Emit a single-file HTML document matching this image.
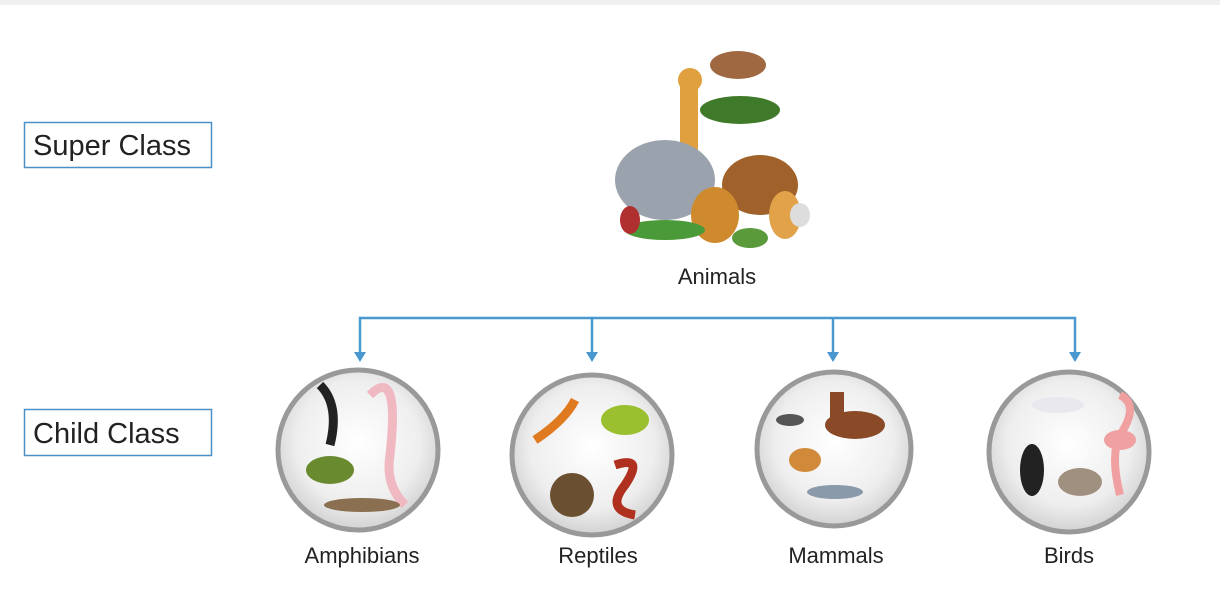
<!DOCTYPE html>
<html><head><meta charset="utf-8"><style>
html,body{margin:0;padding:0;background:#fff;width:1220px;height:614px;overflow:hidden}
svg{display:block}
text{font-family:"Liberation Sans","DejaVu Sans",sans-serif;fill:#222}
</style></head><body>
<svg width="1220" height="614" viewBox="0 0 1220 614">
<defs>
<radialGradient id="cg" cx="50%" cy="45%" r="55%"><stop offset="0" stop-color="#ffffff"/><stop offset="0.7" stop-color="#eeeeee"/><stop offset="1" stop-color="#d2d2d2"/></radialGradient>
</defs>
<rect x="0" y="0" width="1220" height="5" fill="#f0f0f0"/>
<g>
<rect x="24.5" y="122.5" width="187" height="45" fill="#fff" stroke="#4a90c8" stroke-width="1.5"/>
<text x="33" y="155" font-size="29">Super Class</text></g>
<g>
<rect x="24.5" y="409.5" width="187" height="46" fill="#fff" stroke="#4a90c8" stroke-width="1.5"/>
<text x="33" y="443" font-size="29">Child Class</text></g>

<g>
<ellipse cx="740" cy="110" rx="40" ry="14" fill="#3f7a2a"/>
<rect x="680" y="80" width="18" height="100" fill="#e0a040"/>
<ellipse cx="690" cy="80" rx="12" ry="12" fill="#e0a040"/>
<ellipse cx="738" cy="65" rx="28" ry="14" fill="#a06840"/>
<ellipse cx="665" cy="180" rx="50" ry="40" fill="#9aa3ad"/>
<ellipse cx="760" cy="185" rx="38" ry="30" fill="#a0622a"/>
<ellipse cx="715" cy="215" rx="24" ry="28" fill="#d08a2e"/>
<ellipse cx="785" cy="215" rx="16" ry="24" fill="#e2a24a"/>
<ellipse cx="665" cy="230" rx="40" ry="10" fill="#4a9a3a"/>
<ellipse cx="750" cy="238" rx="18" ry="10" fill="#5a9a3a"/>
<ellipse cx="630" cy="220" rx="10" ry="14" fill="#b03030"/>
<ellipse cx="800" cy="215" rx="10" ry="12" fill="#ddd"/>
</g>
<text x="717" y="284" font-size="22" text-anchor="middle">Animals</text>

<g stroke="#4a98d0" stroke-width="2.5" fill="none">
<path d="M360 360 V318 H1075 V360"/>
<path d="M592 318 V360"/><path d="M833 318 V360"/>
</g>
<g fill="#4a98d0">
<path d="M354 352 L366 352 L360 362Z"/><path d="M586 352 L598 352 L592 362Z"/>
<path d="M827 352 L839 352 L833 362Z"/><path d="M1069 352 L1081 352 L1075 362Z"/>
</g>

<g>
<circle cx="358" cy="450" r="80" fill="url(#cg)" stroke="#999" stroke-width="5"/>
<path d="M320 385 q20 20 10 60" stroke="#222" stroke-width="9" fill="none"/>
<path d="M370 395 q30 -30 20 60 q-5 30 15 50" stroke="#f0b8c0" stroke-width="9" fill="none"/>
<ellipse cx="330" cy="470" rx="24" ry="14" fill="#6a8a30"/>
<ellipse cx="362" cy="505" rx="38" ry="7" fill="#8a7050"/>
</g>
<text x="362" y="563" font-size="22" text-anchor="middle">Amphibians</text>

<g>
<circle cx="592" cy="455" r="80" fill="url(#cg)" stroke="#999" stroke-width="5"/>
<path d="M535 440 q30 -20 40 -40" stroke="#e07a20" stroke-width="9" fill="none"/>
<ellipse cx="625" cy="420" rx="24" ry="15" fill="#9ac030"/>
<ellipse cx="572" cy="495" rx="22" ry="22" fill="#6a5030"/>
<path d="M615 465 q30 -10 10 20 q-20 25 10 30" stroke="#b03020" stroke-width="9" fill="none"/>
</g>
<text x="598" y="563" font-size="22" text-anchor="middle">Reptiles</text>

<g>
<circle cx="834" cy="449" r="77" fill="url(#cg)" stroke="#999" stroke-width="5"/>
<ellipse cx="855" cy="425" rx="30" ry="14" fill="#8a4a28"/>
<rect x="830" y="392" width="14" height="30" fill="#8a4a28"/>
<ellipse cx="790" cy="420" rx="14" ry="6" fill="#555"/>
<ellipse cx="805" cy="460" rx="16" ry="12" fill="#d08a3a"/>
<ellipse cx="835" cy="492" rx="28" ry="7" fill="#8a9aaa"/>
</g>
<text x="836" y="563" font-size="22" text-anchor="middle">Mammals</text>

<g>
<circle cx="1069" cy="452" r="80" fill="url(#cg)" stroke="#999" stroke-width="5"/>
<ellipse cx="1058" cy="405" rx="26" ry="8" fill="#e8e8ee"/>
<path d="M1120 395 q20 10 0 40 q-10 20 0 60" stroke="#f0a0a0" stroke-width="8" fill="none"/>
<ellipse cx="1120" cy="440" rx="16" ry="10" fill="#f0a0a0"/>
<ellipse cx="1032" cy="470" rx="12" ry="26" fill="#222"/>
<ellipse cx="1080" cy="482" rx="22" ry="14" fill="#a09080"/>
</g>
<text x="1069" y="563" font-size="22" text-anchor="middle">Birds</text>
</svg>
</body></html>
